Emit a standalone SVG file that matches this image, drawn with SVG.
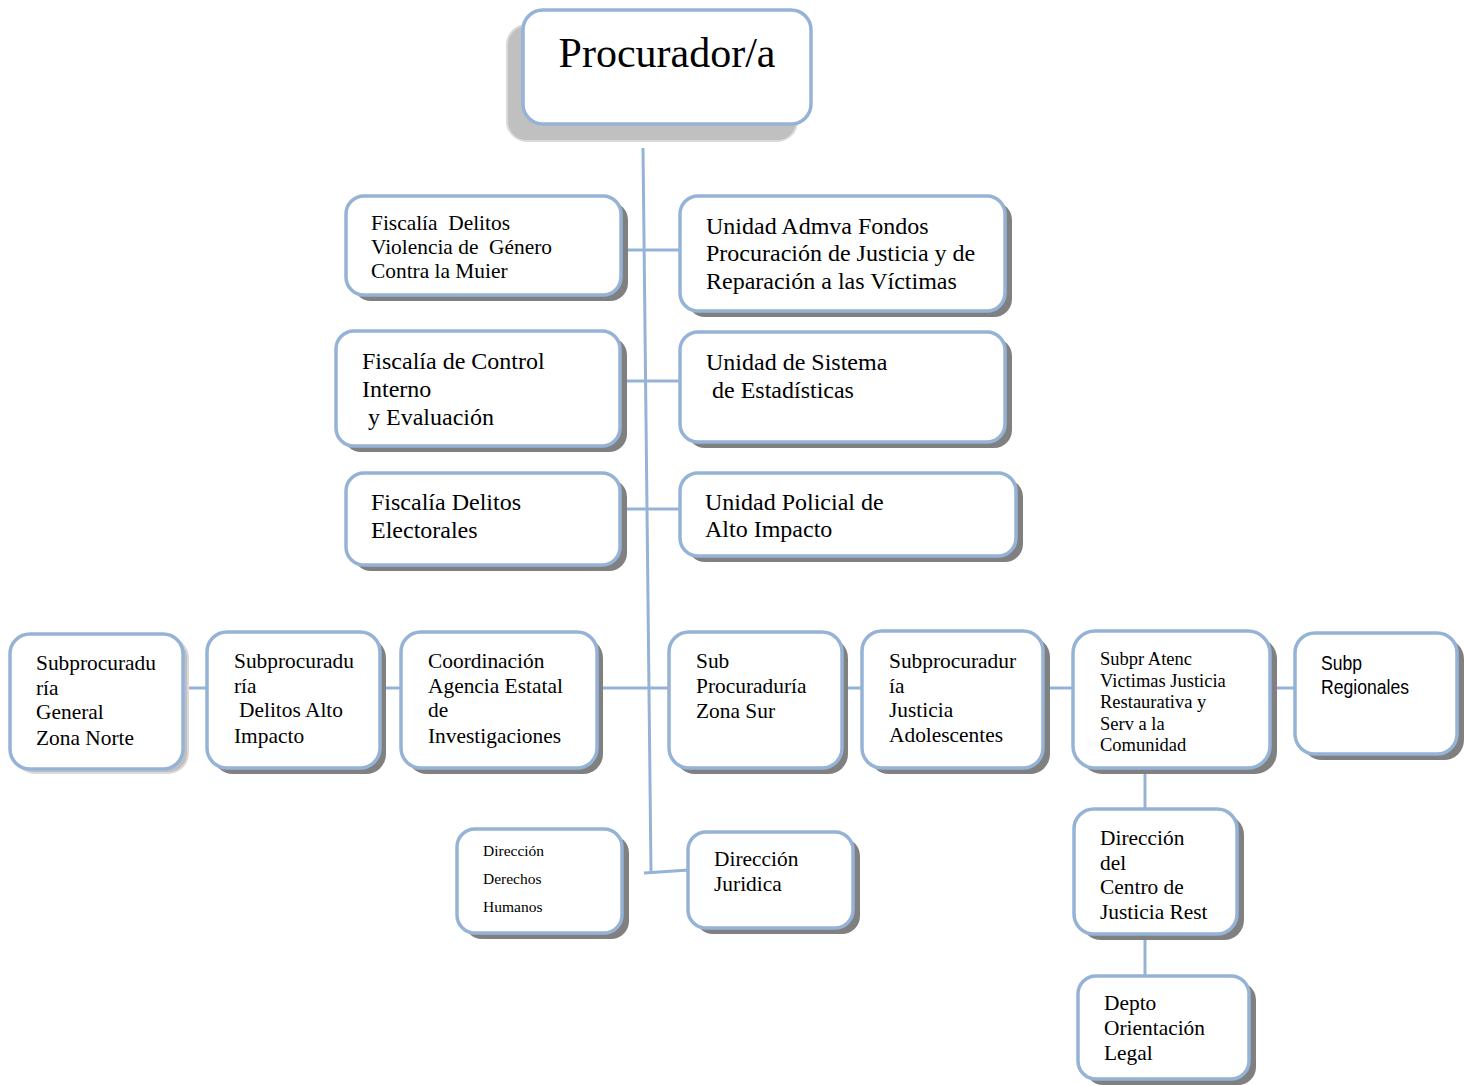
<svg xmlns="http://www.w3.org/2000/svg" width="1464" height="1086" viewBox="0 0 1464 1086">
<style>
.box{fill:#ffffff;stroke:#95b3d7;stroke-width:3.5}
.sh{fill:#808080}
.shl{fill:#c0c0c0;stroke:#d9d9d9;stroke-width:2}
.con{fill:none;stroke:#95b3d7;stroke-width:3}
text{font-family:"Liberation Serif","Times New Roman",serif;fill:#000}
.t24{font-size:24px}
.t21{font-size:21.4px}
.t18{font-size:18.5px}
.t15{font-size:15.5px}
.sans{font-family:"Liberation Sans Narrow","Liberation Sans",Arial,sans-serif;font-size:21px}
</style>
<rect width="1464" height="1086" fill="#ffffff"/>
<g id="connectors">
<path class="con" d="M643,148 L651,872"/>
<path class="con" d="M644,873 L689,870"/>
<path class="con" d="M621,250 H680"/>
<path class="con" d="M622,381 H690"/>
<path class="con" d="M621,509 H680"/>
<path class="con" d="M183,688 H1295"/>
<path class="con" d="M1145,768 V809"/>
<path class="con" d="M1145,934 V976"/>
</g>
<g id="procurador">
<rect class="shl" x="507" y="25" width="290" height="116" rx="20"/>
<rect class="box" x="523" y="10" width="288" height="114" rx="20"/>
<text x="667" y="67" font-size="42" text-anchor="middle">Procurador/a</text>
</g>
<g id="fiscalia-violencia">
<rect class="sh" x="353" y="202" width="275" height="99" rx="18"/>
<rect class="box" x="346" y="196" width="275" height="99" rx="18"/>
<text class="t21" x="371"><tspan x="371" y="230" xml:space="preserve">Fiscalía  Delitos</tspan><tspan x="371" y="254" xml:space="preserve">Violencia de  Género</tspan><tspan x="371" y="278">Contra la Muier</tspan></text>
</g>
<g id="unidad-admva">
<rect class="sh" x="687" y="202" width="325" height="115" rx="18"/>
<rect class="box" x="680" y="196" width="325" height="115" rx="18"/>
<text class="t24"><tspan x="706" y="234">Unidad Admva Fondos</tspan><tspan x="706" y="261">Procuración de Justicia y de</tspan><tspan x="706" y="289">Reparación a las Víctimas</tspan></text>
</g>
<g id="fiscalia-control">
<rect class="sh" x="343" y="337" width="284" height="115" rx="18"/>
<rect class="box" x="336" y="331" width="284" height="115" rx="18"/>
<text class="t24"><tspan x="362" y="369">Fiscalía de Control</tspan><tspan x="362" y="397">Interno</tspan><tspan x="368" y="425">y Evaluación</tspan></text>
</g>
<g id="unidad-estadisticas">
<rect class="sh" x="687" y="338" width="325" height="110" rx="18"/>
<rect class="box" x="680" y="332" width="325" height="110" rx="18"/>
<text class="t24"><tspan x="706" y="370">Unidad de Sistema</tspan><tspan x="712" y="398">de Estadísticas</tspan></text>
</g>
<g id="fiscalia-electorales">
<rect class="sh" x="353" y="479" width="274" height="92" rx="18"/>
<rect class="box" x="346" y="473" width="274" height="92" rx="18"/>
<text class="t24"><tspan x="371" y="510">Fiscalía Delitos</tspan><tspan x="371" y="538">Electorales</tspan></text>
</g>
<g id="unidad-policial">
<rect class="sh" x="687" y="479" width="336" height="83" rx="18"/>
<rect class="box" x="680" y="473" width="336" height="83" rx="18"/>
<text class="t24"><tspan x="705" y="510">Unidad Policial de</tspan><tspan x="705" y="537">Alto Impacto</tspan></text>
</g>
<g id="subproc-norte">
<rect class="shl" x="15" y="638" width="173" height="135" rx="20"/>
<rect class="box" x="10" y="634" width="173" height="135" rx="20"/>
<text class="t21"><tspan x="36" y="670">Subprocuradu</tspan><tspan x="36" y="695">ría</tspan><tspan x="36" y="719">General</tspan><tspan x="36" y="745">Zona Norte</tspan></text>
</g>
<g id="subproc-alto-impacto">
<rect class="sh" x="213" y="638" width="173" height="136" rx="20"/>
<rect class="box" x="207" y="632" width="173" height="136" rx="20"/>
<text class="t21"><tspan x="234" y="668">Subprocuradu</tspan><tspan x="234" y="693">ría</tspan><tspan x="239" y="717">Delitos Alto</tspan><tspan x="234" y="743">Impacto</tspan></text>
</g>
<g id="coordinacion">
<rect class="sh" x="407" y="638" width="196" height="136" rx="20"/>
<rect class="box" x="401" y="632" width="196" height="136" rx="20"/>
<text class="t21"><tspan x="428" y="668">Coordinación</tspan><tspan x="428" y="693">Agencia Estatal</tspan><tspan x="428" y="717">de</tspan><tspan x="428" y="743">Investigaciones</tspan></text>
</g>
<g id="subproc-sur">
<rect class="sh" x="675" y="638" width="173" height="136" rx="20"/>
<rect class="box" x="669" y="632" width="173" height="136" rx="20"/>
<text class="t21"><tspan x="696" y="668">Sub</tspan><tspan x="696" y="693">Procuraduría</tspan><tspan x="696" y="718">Zona Sur</tspan></text>
</g>
<g id="subproc-adolescentes">
<rect class="sh" x="869" y="637" width="181" height="137" rx="20"/>
<rect class="box" x="862" y="631" width="181" height="137" rx="20"/>
<text class="t21"><tspan x="889" y="668">Subprocuradur</tspan><tspan x="889" y="693">ía</tspan><tspan x="889" y="717">Justicia</tspan><tspan x="889" y="742">Adolescentes</tspan></text>
</g>
<g id="subpr-atenc">
<rect class="sh" x="1080" y="637" width="197" height="137" rx="22"/>
<rect class="box" x="1073" y="631" width="197" height="137" rx="22"/>
<text class="t18"><tspan x="1100" y="665">Subpr Atenc</tspan><tspan x="1100" y="687">Victimas Justicia</tspan><tspan x="1100" y="708">Restaurativa y</tspan><tspan x="1100" y="730">Serv a la</tspan><tspan x="1100" y="751">Comunidad</tspan></text>
</g>
<g id="subp-regionales">
<rect class="sh" x="1302" y="639" width="162" height="121" rx="20"/>
<rect class="box" x="1295" y="633" width="162" height="121" rx="20"/>
<text class="sans"><tspan x="1321" y="670" textLength="41" lengthAdjust="spacingAndGlyphs">Subp</tspan><tspan x="1321" y="694" textLength="88" lengthAdjust="spacingAndGlyphs">Regionales</tspan></text>
</g>
<g id="direccion-ddhh">
<rect class="sh" x="464" y="835" width="165" height="104" rx="18"/>
<rect class="box" x="457" y="829" width="165" height="104" rx="18"/>
<text class="t15"><tspan x="483" y="856">Dirección</tspan><tspan x="483" y="884">Derechos</tspan><tspan x="483" y="912">Humanos</tspan></text>
</g>
<g id="direccion-juridica">
<rect class="sh" x="695" y="838" width="165" height="96" rx="18"/>
<rect class="box" x="688" y="832" width="165" height="96" rx="18"/>
<text class="t21"><tspan x="714" y="866">Dirección</tspan><tspan x="714" y="891">Juridica</tspan></text>
</g>
<g id="direccion-centro">
<rect class="sh" x="1081" y="815" width="163" height="125" rx="20"/>
<rect class="box" x="1074" y="809" width="163" height="125" rx="20"/>
<text class="t21"><tspan x="1100" y="845">Dirección</tspan><tspan x="1100" y="870">del</tspan><tspan x="1100" y="894">Centro de</tspan><tspan x="1100" y="919">Justicia Rest</tspan></text>
</g>
<g id="depto-orientacion">
<rect class="sh" x="1085" y="982" width="171" height="103" rx="18"/>
<rect class="box" x="1078" y="976" width="171" height="103" rx="18"/>
<text class="t21"><tspan x="1104" y="1010">Depto</tspan><tspan x="1104" y="1035">Orientación</tspan><tspan x="1104" y="1060">Legal</tspan></text>
</g>
</svg>
